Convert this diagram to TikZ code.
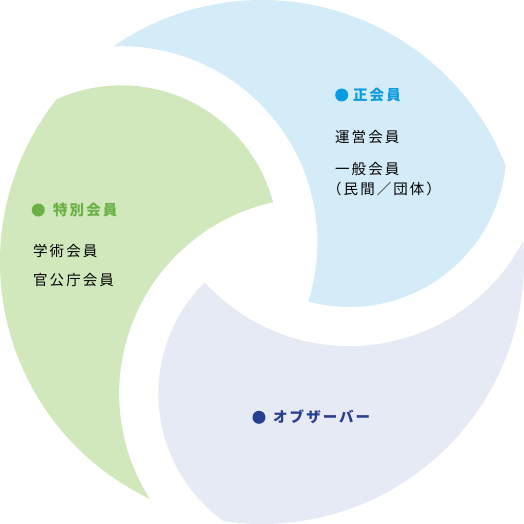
\documentclass[tikz,border=0pt]{standalone}
\usepackage{fontspec}
\usepackage{tikz}
\newfontfamily\jpfont[LetterSpace=14]{Noto Sans CJK JP}
\definecolor{zhengbg}{HTML}{D4ECF8}
\definecolor{tebiebg}{HTML}{D0E8BC}
\definecolor{obsbg}{HTML}{E6EAF4}
\definecolor{zhengfg}{HTML}{0A9BE3}
\definecolor{tebiefg}{HTML}{6BB044}
\definecolor{obsfg}{HTML}{283E92}

\begin{document}
\begin{tikzpicture}[x=1pt,y=1pt,
    label/.style={anchor=west, inner sep=0pt, font=\jpfont\fontsize{14.5}{17}\selectfont},
    title/.style={label, font=\jpfont\bfseries\fontsize{14.5}{17}\selectfont},
    dot/.style={circle, inner sep=0pt, minimum size=13pt}]
    \useasboundingbox (-262,-262) rectangle (262,262);
    % Petals
    \foreach \rot/\col in {0/zhengbg, 120/tebiebg, 240/obsbg}
       \fill[\col, rotate=\rot] (124.6:262) arc[start angle=124.6, end angle=21.6, radius=262]
          arc[start angle=-5.7, end angle=-105.2, radius=157]
          arc[start angle=-17.6, end angle=92.4, radius=196] -- cycle;
    % Regular members
       \node[dot, fill=zhengfg] (zhengdot) at (79.7, 167) {};
       \node[title, text=zhengfg] (zheng) at (91, 167) {正会員};
       \node[label] (yunying) at (73, 125.5) {運営会員};
       \node[label] (yiban) at (73, 93) {一般会員};
       \node[label] (minjian) at (65, 73.5) {（民間／団体）};
    % Special members
       \node[dot, fill=tebiefg] (tebiedot) at (-223.7, 52) {};
       \node[title, text=tebiefg] (tebie) at (-209, 52) {特別会員};
       \node[label] (xueshu) at (-229, 11) {学術会員};
       \node[label] (guangong) at (-229, -18) {官公庁会員};
    % Observers
       \node[dot, fill=obsfg] (obsdot) at (-3, -155.3) {};
       \node[title, text=obsfg] (obs) at (11, -155) {オブザーバー};
\end{tikzpicture}
\end{document}
